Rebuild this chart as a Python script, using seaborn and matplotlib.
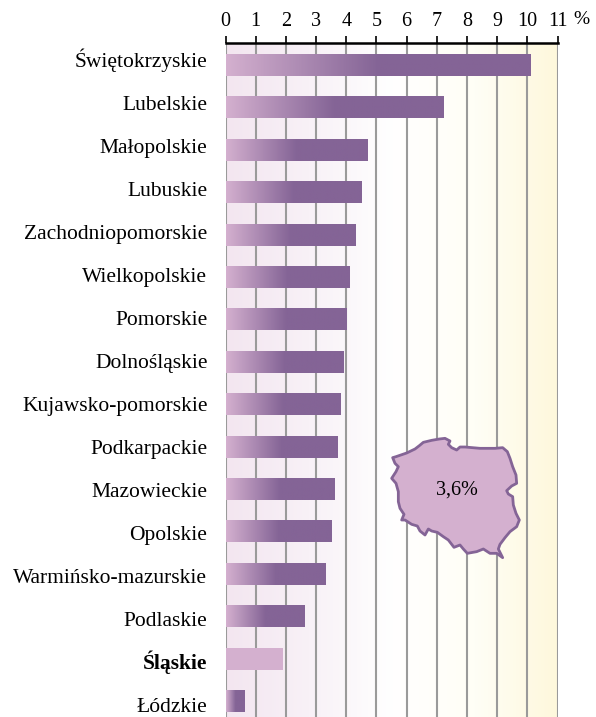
#!/usr/bin/env python
# -*- coding: utf-8 -*-
import numpy as np
import pandas as pd
import seaborn as sns
import matplotlib.pyplot as plt
from matplotlib.colors import LinearSegmentedColormap

REGIONS = [
    'Świętokrzyskie', 'Lubelskie', 'Małopolskie', 'Lubuskie',
    'Zachodniopomorskie', 'Wielkopolskie', 'Pomorskie', 'Dolnośląskie',
    'Kujawsko-pomorskie', 'Podkarpackie', 'Mazowieckie', 'Opolskie',
    'Warmińsko-mazurskie', 'Podlaskie', 'Śląskie', 'Łódzkie'
]
VALUES = [
    10.1, 7.2, 4.7, 4.5, 4.3, 4.1, 4.0, 3.9,
    3.8, 3.7, 3.6, 3.5, 3.3, 2.6, 1.9, 0.6
]
HIGHLIGHT = 'Śląskie'
TICKS = list(range(12))
NATIONAL = '3,6%'
# Outline of the country (pixels of a 150x140 crop x3)
MAP_X = [
    38, 48, 80, 105, 118, 130, 155, 178, 195, 210, 205, 215, 230, 240, 255,
    300, 345, 368, 382, 390, 398, 408, 410, 395, 380, 385, 398, 400, 408, 418,
    410, 390, 375, 360, 355, 368, 350, 330, 310, 290, 262, 250, 240, 222, 205,
    190, 172, 155, 145, 135, 120, 112, 95, 75, 65, 72, 60, 55, 55, 48,
    35, 48, 55, 45, 38
]
MAP_Y = [
    98, 95, 84, 72, 62, 52, 46, 42, 40, 48, 58, 68, 75, 66, 66,
    70, 70, 68, 80, 100, 125, 150, 175, 183, 197, 207, 215, 240, 265, 285,
    305, 320, 338, 358, 372, 398, 385, 385, 372, 380, 385, 372, 360, 367, 345,
    335, 322, 318, 312, 330, 318, 303, 298, 285, 285, 268, 250, 230, 200, 175,
    160, 140, 125, 115, 98
]

LIGHT = '#D4B0CF'
DARK = '#846496'
(W, H) = (596, 717)
(X0, X1, YTOP) = (225.5, 557.5, 43)
(ROW0, ROWH) = (65, 42.4)
(LAB0, LABH) = (66.8, 43)

sns.set_theme(style='white')
plt.rcParams['font.family'] = ['Liberation Serif', 'DejaVu Serif']
df = pd.DataFrame({'region': REGIONS, 'value': VALUES})

fig = plt.figure(figsize=(W/100, H/100), dpi=100)
ax = fig.add_axes([X0/W, 0, (X1-X0)/W, (H-YTOP)/H])
ylim = ((H-ROW0)/ROWH, (YTOP-ROW0)/ROWH)

# Background wash
bgMap = LinearSegmentedColormap.from_list(
    'bg', ['#F3E6F0', '#F8F1F7', '#FFFFFF', '#FFFEF6', '#FEF8DC']
)
ax.imshow(
    np.linspace(0, 1, 256).reshape(1, -1), cmap=bgMap, aspect='auto',
    extent=(0, 11, ylim[0], ylim[1]), zorder=0
)
# Bars
sns.barplot(
    data=df, x='value', y='region', orient='h', color=LIGHT, width=0.52,
    saturation=1, linewidth=0, edgecolor='none', ax=ax, zorder=3
)
barMap = LinearSegmentedColormap.from_list('bar', [LIGHT, DARK])
ramp = np.clip(np.linspace(0, 2, 256), 0, 1).reshape(1, -1)
for (patch, name) in zip(ax.patches, REGIONS):
    if name == HIGHLIGHT:
        continue
    im = ax.imshow(
        ramp, cmap=barMap, aspect='auto', zorder=4,
        extent=(
            0, patch.get_width(),
            patch.get_y()+patch.get_height(), patch.get_y()
        )
    )
    im.set_clip_path(patch)

ax.set_xlim(0, 11)
ax.set_ylim(*ylim)
ax.set_xlabel('')
ax.set_ylabel('')
ax.set_xticks(TICKS)
ax.set_xticklabels([str(t) for t in TICKS])
ax.xaxis.tick_top()
ax.tick_params(
    axis='x', length=5, width=1.2, color='black', labelsize=14.5,
    pad=4, labelcolor='black', top=True
)
# Label baselines are spaced a little wider than the bars in the original
ax.set_yticks([(LAB0+LABH*i-ROW0)/ROWH for i in range(len(REGIONS))])
ax.set_yticklabels(REGIONS, va='baseline')
ax.tick_params(axis='y', length=0, labelsize=15.5, pad=13, labelcolor='black')
for lab in ax.get_yticklabels():
    lab.set_verticalalignment('baseline')
    if lab.get_text() == HIGHLIGHT:
        lab.set_fontweight('bold')
ax.grid(False)
for t in TICKS:
    ax.axvline(t, color='#9A9A9A', lw=1.5, zorder=2)
for s in ('left', 'right', 'bottom'):
    ax.spines[s].set_visible(False)
ax.spines['top'].set_linewidth(1.8)
ax.spines['top'].set_color('black')
ax.spines['top'].set_zorder(6)
fig.text(573/W, 1-19.5/H, '%', fontsize=14, ha='left', va='center', color='black')

# Country shape
mp = fig.add_axes([380/W, 1-565/H, 150/W, 140/H])
mp.patch.set_alpha(0)
mp.axis('off')
mp.fill(MAP_X, MAP_Y, facecolor=LIGHT, edgecolor=DARK, lw=2, joinstyle='round')
mp.set_xlim(0, 450)
mp.set_ylim(420, 0)
mp.text(231, 195, NATIONAL, fontsize=14.5, ha='center', va='center', color='black')

fig.savefig('out.png', dpi=100)
